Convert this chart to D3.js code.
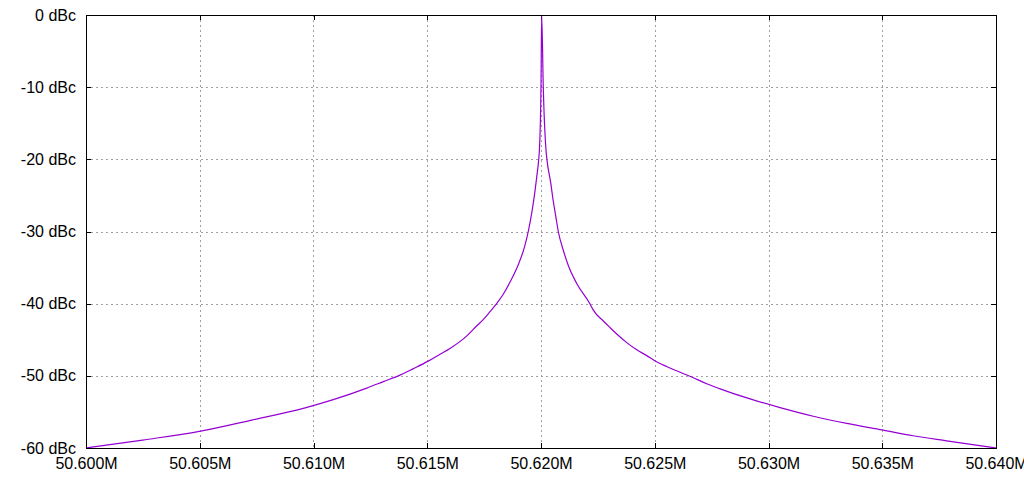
<!DOCTYPE html>
<html>
<head>
<meta charset="utf-8">
<script src="https://cdn.jsdelivr.net/npm/d3@7"></script>
<style>
  html, body { margin: 0; padding: 0; background: #fff; }
  svg { display: block; }
  text { font-family: "Liberation Sans", Arial, sans-serif; font-size: 16px; fill: #000; }
</style>
</head>
<body>
<svg id="chart" width="1024" height="480"></svg>
<script>
// Frequencies (MHz) and levels (dBc)
const freqMHz = [
  50.60000, 50.60249, 50.60498, 50.60733, 50.60967, 50.61087, 50.61234, 50.61307,
  50.61380, 50.61439, 50.61502, 50.61556, 50.61600, 50.61673, 50.61717, 50.61746,
  50.61776, 50.61805, 50.61834, 50.61864, 50.61900, 50.61927, 50.61944, 50.61959,
  50.61971, 50.61981, 50.61990, 50.61993, 50.62000, 50.62003,
  50.62010, 50.62022, 50.62026, 50.62043, 50.62053, 50.62065, 50.62076, 50.62098,
  50.62120, 50.62157, 50.62215, 50.62230, 50.62274, 50.62303, 50.62333, 50.62377,
  50.62421, 50.62465, 50.62500, 50.62552, 50.62596, 50.62665, 50.62728, 50.62787,
  50.62919, 50.63051, 50.63197, 50.63344, 50.63500, 50.63636, 50.63783, 50.64000
];
const levelDbc = [
  -60.0, -58.9, -57.7, -56.1, -54.4, -53.3, -51.7, -50.8,
  -49.9, -49.0, -48.0, -47.0, -46.2, -44.5, -43.1, -42.2,
  -41.1, -40.0, -38.7, -37.0, -34.6, -32.2, -30.0, -27.5,
  -25.0, -22.5, -20.0, -18.7, -10.0, 0.0,
  -10.0, -18.7, -20.0, -23.3, -25.6, -27.9, -30.0, -32.6,
  -34.7, -37.2, -40.0, -40.9, -42.4, -43.3, -44.2, -45.4,
  -46.4, -47.2, -47.9, -48.7, -49.3, -50.2, -51.1, -51.8,
  -53.2, -54.4, -55.6, -56.6, -57.5, -58.3, -59.0, -60.0
];
const xTicks = [50.600, 50.605, 50.610, 50.615, 50.620, 50.625, 50.630, 50.635, 50.640];
const yTicks = [-60, -50, -40, -30, -20, -10, 0];

const svg = d3.select("#chart");
const m = { left: 86, right: 996, top: 15, bottom: 448 };

const x = d3.scaleLinear().domain([50.600, 50.640]).range([m.left, m.right]);
const y = d3.scaleLinear().domain([-60, 0]).range([m.bottom, m.top]);

svg.append("rect").attr("width", 1024).attr("height", 480).attr("fill", "#fff");

// grid
const grid = svg.append("g").attr("stroke", "#a0a0a0").attr("stroke-width", 1)
  .attr("stroke-dasharray", "2,3").attr("shape-rendering", "crispEdges");
xTicks.slice(1, -1).forEach(t => {
  grid.append("line").attr("x1", Math.round(x(t)) + 0.5).attr("x2", Math.round(x(t)) + 0.5)
    .attr("y1", m.top).attr("y2", m.bottom);
});
yTicks.slice(1, -1).forEach(t => {
  grid.append("line").attr("y1", Math.round(y(t)) + 0.5).attr("y2", Math.round(y(t)) + 0.5)
    .attr("x1", m.left).attr("x2", m.right);
});

// axes with inward ticks (mirrored)
const tl = 5;
const xb = d3.axisBottom(x).tickValues(xTicks).tickSizeInner(-tl).tickSizeOuter(0)
  .tickPadding(10).tickFormat(d => d3.format(".3f")(d) + "M");
const xt = d3.axisTop(x).tickValues(xTicks).tickSizeInner(-tl).tickSizeOuter(0).tickFormat("");
const yl = d3.axisLeft(y).tickValues(yTicks).tickSizeInner(-tl).tickSizeOuter(0)
  .tickPadding(10).tickFormat(d => d + " dBc");
const yr = d3.axisRight(y).tickValues(yTicks).tickSizeInner(-tl).tickSizeOuter(0).tickFormat("");

function style(g) {
  g.select(".domain").remove();
  g.selectAll("line").attr("stroke", "#000").attr("shape-rendering", "crispEdges");
  g.selectAll("text").attr("font-family", "Liberation Sans, Arial, sans-serif").attr("font-size", 16).attr("fill", "#000");
}
svg.append("g").attr("transform", `translate(0,${m.bottom})`).call(xb).call(style);
svg.append("g").attr("transform", `translate(0,${m.top})`).call(xt).call(style);
svg.append("g").attr("transform", `translate(${m.left},0)`).call(yl).call(style);
svg.append("g").attr("transform", `translate(${m.right},0)`).call(yr).call(style);

// data line
const pts = freqMHz.map((f, i) => [f, levelDbc[i]]);
const line = d3.line().x(d => x(d[0])).y(d => y(d[1])).curve(d3.curveMonotoneX);
svg.append("path").datum(pts).attr("d", line)
  .attr("fill", "none").attr("stroke", "#9400D3").attr("stroke-width", 1.2);

// frame
svg.append("rect").attr("x", m.left + 0.5).attr("y", m.top + 0.5)
  .attr("width", m.right - m.left).attr("height", m.bottom - m.top)
  .attr("fill", "none").attr("stroke", "#000").attr("stroke-width", 1)
  .attr("shape-rendering", "crispEdges");
</script>
</body>
</html>
